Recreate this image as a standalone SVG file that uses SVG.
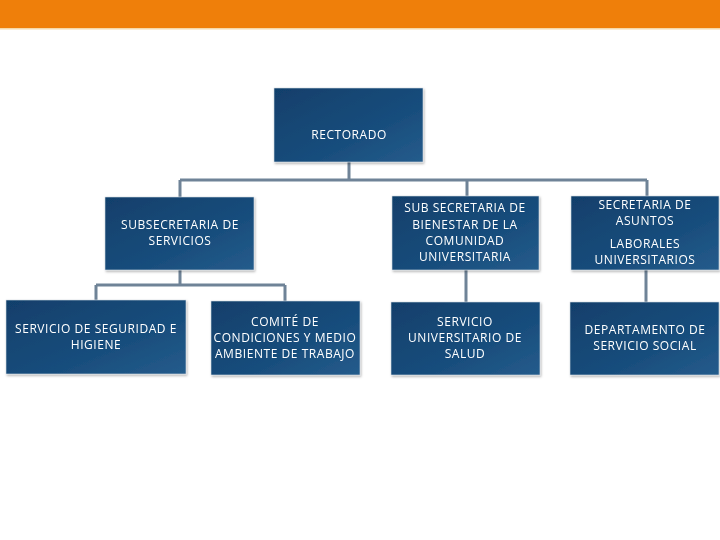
<svg xmlns="http://www.w3.org/2000/svg" width="720" height="540" viewBox="0 0 720 540">
<style>
.box{fill:url(#g);stroke:#d8dde3;stroke-width:0.6}
.t{font-family:"Open Sans","Liberation Sans",sans-serif;font-size:12px;letter-spacing:0.55px;fill:#ffffff;text-anchor:middle}
.c{fill:none;stroke:#6f8397;stroke-width:3}
</style>
<defs>
<linearGradient id="g" x1="0" y1="0" x2="1" y2="1">
<stop offset="0" stop-color="#113f6b"/>
<stop offset="0.6" stop-color="#184d7c"/>
<stop offset="1" stop-color="#255c8c"/>
</linearGradient>
<filter id="sh" x="-10%" y="-10%" width="120%" height="130%">
<feDropShadow dx="1" dy="1.5" stdDeviation="1" flood-color="#000" flood-opacity="0.3"/>
</filter>
</defs>
<rect x="0" y="0" width="720" height="28" fill="#ef7f0a"/>
<rect x="0" y="28" width="720" height="1.5" fill="#f6d8a8"/>
<g id="connectors">
<path class="c" d="M349,162V180M180,180H647M180,180V197M467,180V196M647,180V196"/>
<path class="c" d="M180,270V285M96,285H285M96,285V300M285,285V301"/>
<path class="c" d="M466,270V302M646,270V302"/>
</g>
<g id="rectorado" filter="url(#sh)">
<rect class="box" x="274" y="88" width="149" height="74"/>
<text class="t" x="349" y="139">RECTORADO</text>
</g>
<g id="subsecretaria" filter="url(#sh)">
<rect class="box" x="105" y="197" width="149" height="73"/>
<text class="t" x="180" y="229">SUBSECRETARIA DE</text>
<text class="t" x="180" y="245">SERVICIOS</text>
</g>
<g id="bienestar" filter="url(#sh)">
<rect class="box" x="392" y="196" width="147" height="74"/>
<text class="t" x="465" y="212">SUB SECRETARIA DE</text>
<text class="t" x="465" y="229">BIENESTAR DE LA</text>
<text class="t" x="465" y="245">COMUNIDAD</text>
<text class="t" x="465" y="261">UNIVERSITARIA</text>
</g>
<g id="asuntos" filter="url(#sh)">
<rect class="box" x="571" y="196" width="148" height="74"/>
<text class="t" x="645" y="209">SECRETARIA DE</text>
<text class="t" x="645" y="225">ASUNTOS</text>
<text class="t" x="645" y="248">LABORALES</text>
<text class="t" x="645" y="264">UNIVERSITARIOS</text>
</g>
<g id="seguridad" filter="url(#sh)">
<rect class="box" x="6" y="300" width="180" height="74"/>
<text class="t" x="96" y="333">SERVICIO DE SEGURIDAD E</text>
<text class="t" x="96" y="349">HIGIENE</text>
</g>
<g id="comite" filter="url(#sh)">
<rect class="box" x="211" y="301" width="149" height="74"/>
<text class="t" x="285" y="326">COMITÉ DE</text>
<text class="t" x="285" y="342">CONDICIONES Y MEDIO</text>
<text class="t" x="285" y="358">AMBIENTE DE TRABAJO</text>
</g>
<g id="salud" filter="url(#sh)">
<rect class="box" x="391" y="302" width="149" height="73"/>
<text class="t" x="465" y="326">SERVICIO</text>
<text class="t" x="465" y="342">UNIVERSITARIO DE</text>
<text class="t" x="465" y="358">SALUD</text>
</g>
<g id="social" filter="url(#sh)">
<rect class="box" x="570" y="302" width="149" height="73"/>
<text class="t" x="645" y="334">DEPARTAMENTO DE</text>
<text class="t" x="645" y="350">SERVICIO SOCIAL</text>
</g>
</svg>
